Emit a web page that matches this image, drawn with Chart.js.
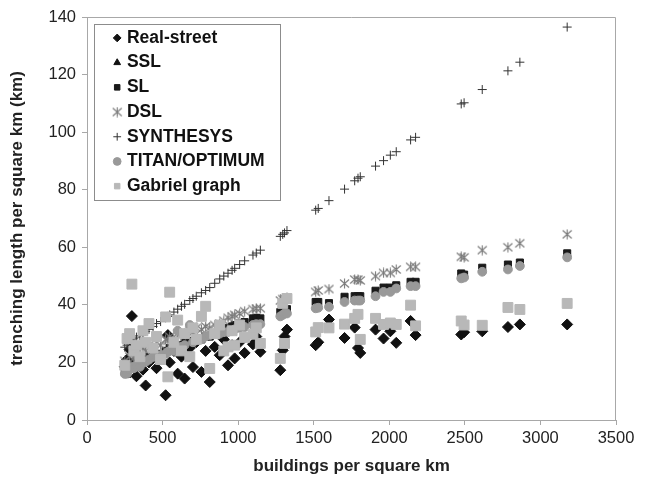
<!DOCTYPE html>
<html>
<head>
<meta charset="utf-8">
<script src="https://cdn.jsdelivr.net/npm/chart.js@4.4.1/dist/chart.umd.min.js"></script>
<style>
  html, body { margin: 0; padding: 0; background: #fff; }
  canvas { display: block; }
</style>
</head>
<body>
<canvas id="chart" width="648" height="479"></canvas>
<script>
// buildings per square km (shared by every series)
var density = [250, 265, 282, 297, 310, 327, 350, 370, 388, 410,
    437, 460, 487, 520, 535, 547, 575, 600, 625, 646,
    680, 701, 723, 757, 785, 812, 845, 878, 905, 933,
    960, 977, 1010, 1043, 1098, 1120, 1147, 1279, 1295, 1307,
    1323, 1513, 1530, 1601, 1704, 1771, 1793, 1808, 1909, 1962,
    2007, 2046, 2141, 2174, 2476, 2495, 2615, 2785, 2864, 3177];

// trenching length per square km (km)
var realStreet = [18.5, 21, 24.5, 36.1, 19, 15.2, 22, 17.5, 12, 20,
    23, 18, 21, 8.6, 29.5, 20, 24, 16.1, 22, 14.4,
    25, 18.4, 27, 16.7, 24, 13.2, 25.4, 22.5, 28, 19,
    26, 21.4, 27, 23.3, 26.3, 29, 23.7, 17.3, 24.2, 29,
    31.4, 26, 27, 34.9, 28.5, 32.1, 25, 23.3, 31.4, 28.3,
    30.8, 26.8, 34.4, 29.5, 29.7, 30.5, 30.8, 32.3, 33.2, 33.2];
var ssl = [16.5, 15.5, 18, 19.5, 18, 19, 18.5, 20.5, 20, 21.5,
    21, 22.5, 22, 23.5, 23.5, 24.5, 24, 25.5, 25, 26.5,
    27, 26.5, 28, 27.5, 28.5, 28.5, 29.5, 30, 31, 31.5,
    32, 32.5, 33, 33.5, 34.8, 35, 34.8, 37, 37.5, 37.7,
    38, 40.5, 40.5, 40.1, 42.3, 42.5, 42.5, 42.5, 44.4, 45.5,
    45.5, 46.3, 47.5, 47.5, 50.4, 50, 52.4, 53.5, 54.2, 57.4];
var sl = [17, 16, 18.5, 20, 18.5, 19.5, 19, 21, 20.5, 22,
    21.5, 23, 22.5, 24, 24, 25, 24.5, 26, 25.5, 27,
    27.5, 27, 28.5, 28, 29, 29, 30, 30.5, 31.5, 32,
    32.5, 33, 33.5, 34, 35.3, 35.5, 35.3, 37.5, 38, 38.2,
    38.5, 41, 41, 40.6, 42.8, 43, 43, 43, 44.9, 46,
    46, 46.8, 48, 48, 50.9, 50.5, 52.9, 54, 54.7, 57.9];
var dsl = [20.5, 19, 22, 24, 21.5, 23, 22.5, 25, 24, 26,
    25, 27, 26, 28, 27.5, 29, 28, 30, 29.5, 30,
    31, 30.5, 32, 31.5, 32.5, 32, 33, 33.5, 34.5, 35.5,
    36, 36.5, 37, 37.8, 38.5, 38.7, 38.8, 41.5, 42, 42.2,
    42.5, 44.5, 45, 45.5, 47.4, 48.8, 48.8, 48.5, 50, 51.1,
    51.1, 52.3, 53.2, 53.2, 56.7, 56.5, 59, 60, 61.4, 64.5];
var synthesys = [25.3, 26, 27.5, 27.8, 28.2, 28.8, 29.3, 30, 30.8, 31.5,
    32.5, 33.5, 34.2, 35.5, 36, 36.5, 37.5, 38.5, 39.5, 40.2,
    41.5, 42.2, 43, 44.2, 45, 46, 47.5, 49, 50, 51,
    52, 52.7, 54, 55.3, 57.3, 58, 59, 63.8, 64.5, 65,
    65.8, 72.9, 73.5, 76.2, 80.2, 83.1, 84, 84.5, 88.2, 90.1,
    92, 93.2, 97.3, 98.2, 109.8, 110.2, 114.8, 121.3, 124.3, 136.5];
var titan = [16, 16.1, 17.5, 18.4, 18, 19, 18.5, 20, 20.2, 21,
    21.9, 22, 22.5, 23, 23.7, 24, 24, 31, 25.4, 26,
    33, 27, 28.3, 28, 29, 29.5, 30.1, 30, 30.5, 30.6,
    31, 31.5, 32, 32.3, 33, 33.3, 33.3, 36, 36.5, 37,
    37, 38.8, 39, 39.3, 41, 41.5, 41.5, 41.5, 43, 44.5,
    44.5, 45.7, 46.5, 46.5, 49.2, 49.5, 51.5, 52.3, 53.5, 56.5];
var gabriel = [19, 28.3, 30, 47.2, 24, 26, 22, 31, 27, 33.5,
    25, 29, 21, 35.8, 15, 44.4, 27, 34.7, 24, 30,
    22, 32, 28, 36, 39.5, 17.9, 30, 33, 24, 25.4,
    31, 26, 33, 28.7, 29.8, 32, 26.6, 21.4, 40.5, 26.6,
    42.2, 30.6, 32.1, 32, 33.3, 35.3, 36.7, 28, 35.3, 33.2,
    33.7, 33.2, 39.9, 32.7, 34.4, 33, 32.9, 39.1, 38.4, 40.5];

var seriesNames = ['Real-street', 'SSL', 'SL', 'DSL', 'SYNTHESYS', 'TITAN/OPTIMUM', 'Gabriel graph'];
var xTicks = [0, 500, 1000, 1500, 2000, 2500, 3000, 3500];
var yTicks = [0, 20, 40, 60, 80, 100, 120, 140];

var fontFamily = "'Liberation Sans', Arial, sans-serif";

// DSL marker: an x with a vertical bar
function asteriskMarker(size, color) {
    var c = document.createElement('canvas');
    c.width = size;
    c.height = size;
    var g = c.getContext('2d');
    g.strokeStyle = color;
    g.lineWidth = 1.1;
    g.beginPath();
    g.moveTo(1, 1.5); g.lineTo(size - 1, size - 1.5);
    g.moveTo(1, size - 1.5); g.lineTo(size - 1, 1.5);
    g.moveTo(size / 2, 0.5); g.lineTo(size / 2, size - 0.5);
    g.stroke();
    return c;
}

function toPoints(values) {
    return density.map(function(x, i) { return { x: x, y: values[i] }; });
}

var styles = [
    { data: realStreet, pointStyle: 'rectRot', color: '#111111', radius: 5.5, order: 6 },
    { data: ssl, pointStyle: 'triangle', color: '#111111', radius: 3.5, order: 5 },
    { data: sl, pointStyle: 'rect', color: '#1a1a1a', radius: 5, order: 4 },
    { data: dsl, pointStyle: asteriskMarker(11, '#7a7a7a'), color: '#7a7a7a', radius: 5.5, order: 3 },
    { data: synthesys, pointStyle: 'cross', color: '#333333', radius: 4.5, order: 2 },
    { data: titan, pointStyle: 'circle', color: '#999999', radius: 4.4, order: 1 },
    { data: gabriel, pointStyle: 'rect', color: '#b8b8b8', radius: 7, order: 0 }
];

var datasets = styles.map(function(s, i) {
    return {
        label: seriesNames[i],
        data: toPoints(s.data),
        pointStyle: s.pointStyle,
        backgroundColor: s.color,
        borderColor: s.color,
        borderWidth: 1,
        pointRadius: s.radius,
        pointHoverRadius: s.radius,
        order: s.order
    };
});

// plot frame, legend placement and legend frame
var framePlugin = {
    id: 'framePlugin',
    afterLayout: function(chart) {
        var a = chart.chartArea;
        var lg = chart.legend;
        lg.left = a.left + 22;
        lg.right = a.right;
        lg.top = a.top + 5;
        lg.bottom = a.bottom;
    },
    afterDraw: function(chart) {
        var ctx = chart.ctx;
        var a = chart.chartArea;
        ctx.save();
        ctx.strokeStyle = '#a8a8a8';
        ctx.lineWidth = 1;
        ctx.beginPath();
        ctx.moveTo(a.left, a.top + 0.5);
        ctx.lineTo(a.right - 0.5, a.top + 0.5);
        ctx.lineTo(a.right - 0.5, a.bottom);
        ctx.stroke();

        var hb = chart.legend.legendHitBoxes;
        if (hb && hb.length) {
            var l = Math.min.apply(null, hb.map(function(h) { return h.left; })) - 22;
            var t = Math.min.apply(null, hb.map(function(h) { return h.top; })) - 5;
            var r = Math.max.apply(null, hb.map(function(h) { return h.left + h.width; })) + 16;
            var b = Math.max.apply(null, hb.map(function(h) { return h.top + h.height; })) + 5;
            ctx.strokeStyle = '#8c8c8c';
            ctx.strokeRect(Math.round(l) + 0.5, Math.round(t) + 0.5, Math.round(r - l), Math.round(b - t));
        }
        ctx.restore();
    }
};

function plainTick(value) {
    return String(value);
}

var ctx = document.getElementById('chart').getContext('2d');
var myChart = new Chart(ctx, {
    type: 'scatter',
    data: { datasets: datasets },
    options: {
        responsive: false,
        animation: false,
        layout: { padding: { left: 7, right: 32, top: 17, bottom: 2 } },
        plugins: {
            tooltip: { enabled: false },
            legend: {
                position: 'chartArea',
                align: 'start',
                labels: {
                    usePointStyle: true,
                    boxWidth: 2,
                    boxHeight: 5.5,
                    padding: 7.2,
                    color: '#111111',
                    font: { family: fontFamily, size: 17.5, weight: 'bold' },
                    sort: function(a, b) { return a.datasetIndex - b.datasetIndex; }
                }
            }
        },
        scales: {
            x: {
                type: 'linear',
                min: xTicks[0],
                max: xTicks[xTicks.length - 1],
                afterBuildTicks: function(scale) {
                    scale.ticks = xTicks.map(function(v) { return { value: v }; });
                },
                afterFit: function(scale) { scale.height = 57; },
                grid: { drawOnChartArea: false, drawTicks: true, tickLength: 5, color: '#a8a8a8' },
                border: { display: true, color: '#a8a8a8' },
                ticks: {
                    padding: 4,
                    color: '#222222',
                    font: { family: fontFamily, size: 16.5 },
                    callback: plainTick
                },
                title: {
                    display: true,
                    text: 'buildings per square km',
                    color: '#222222',
                    padding: 0,
                    font: { family: fontFamily, size: 17, weight: 'bold' }
                }
            },
            y: {
                type: 'linear',
                min: yTicks[0],
                max: yTicks[yTicks.length - 1],
                afterBuildTicks: function(scale) {
                    scale.ticks = yTicks.map(function(v) { return { value: v }; });
                },
                afterFit: function(scale) { scale.width = 80; },
                grid: { drawOnChartArea: false, drawTicks: true, tickLength: 5, color: '#a8a8a8' },
                border: { display: true, color: '#a8a8a8' },
                ticks: {
                    padding: 6,
                    color: '#222222',
                    font: { family: fontFamily, size: 16.5 },
                    callback: plainTick
                },
                title: {
                    display: true,
                    text: 'trenching length per square km (km)',
                    color: '#222222',
                    padding: 0,
                    font: { family: fontFamily, size: 17, weight: 'bold' }
                }
            }
        }
    },
    plugins: [framePlugin]
});
</script>
</body>
</html>
